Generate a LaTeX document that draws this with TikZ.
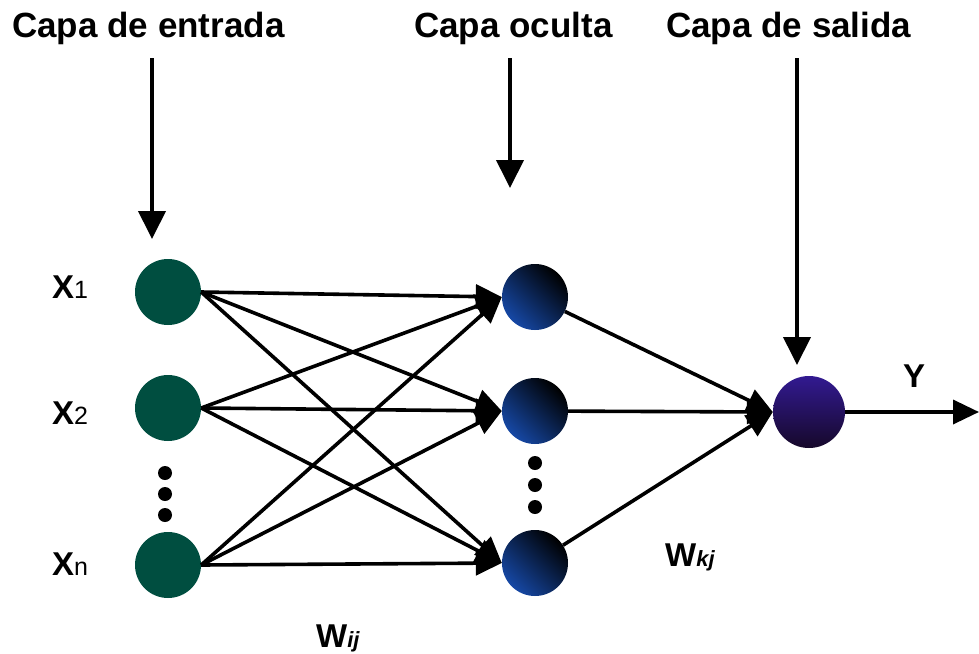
\documentclass[tikz,border=0pt]{standalone}
\usepackage{fontspec}
\setmainfont{Liberation Sans}
\usetikzlibrary{arrows.meta}
\definecolor{inputgreen}{RGB}{0,78,64}
\definecolor{hiddenblue}{RGB}{22,72,165}
\definecolor{outtop}{RGB}{50,26,145}
\definecolor{outbot}{RGB}{22,8,42}
\begin{document}
\begin{tikzpicture}[x=1pt,y=-1pt,
  neuron/.style={circle,minimum size=66pt,inner sep=0pt},
  innode/.style={neuron,fill=inputgreen},
  hidnode/.style={neuron,left color=hiddenblue,right color=black,shading angle=135},
  outnode/.style={neuron,minimum size=72pt,top color=outtop,bottom color=outbot},
  dotmark/.style={circle,fill=black,minimum size=14pt,inner sep=0pt},
  caption/.style={font=\fontsize{35}{40}\selectfont\bfseries,inner sep=0pt,anchor=base west},
  varlabel/.style={font=\fontsize{33}{38}\selectfont\bfseries,inner sep=0pt,anchor=base west},
  wire/.style={line width=3.6pt,-{Triangle[width=24pt,length=26pt]}},
  pointer/.style={line width=4pt,-{Triangle[width=27pt,length=28pt]}}
]
\useasboundingbox (0,0) rectangle (979,653);

% layer titles
\node[caption] (tin)  at (12,37)  {Capa de entrada};
\node[caption] (thid) at (414,37) {Capa oculta};
\node[caption] (tout) at (666,37) {Capa de salida};

% neurons
\node[innode] (i1) at (168,292) {};
\node[innode] (i2) at (168,408) {};
\node[innode] (i3) at (168,565) {};
\node[hidnode] (h1) at (535,297) {};
\node[hidnode] (h2) at (535,411) {};
\node[hidnode] (h3) at (535,563) {};
\node[outnode] (o) at (809,412) {};

% ellipsis dots
\node[dotmark] (d1) at (165,473) {};
\node[dotmark] (d2) at (165,494) {};
\node[dotmark] (d3) at (165,515) {};
\node[dotmark] (e1) at (535,463) {};
\node[dotmark] (e2) at (535,485) {};
\node[dotmark] (e3) at (535,507) {};

% input labels
\node[varlabel] (x1) at (52,298) {X\fontsize{25}{28}\selectfont\mdseries 1};
\node[varlabel] (x2) at (52,424) {X\fontsize{25}{28}\selectfont\mdseries 2};
\node[varlabel] (xn) at (52,575) {X\fontsize{25}{28}\selectfont\mdseries n};

% weight labels
\node[varlabel] (wij) at (316,647) {W\fontsize{22}{26}\selectfont\itshape ij};
\node[varlabel] (wkj) at (665,566) {W\fontsize{22}{26}\selectfont\itshape kj};
\node[varlabel] (ylab) at (903,387) {Y};

% pointers from the titles
\coordinate (pin)  at (152,58);
\coordinate (pinT) at (152,239);
\coordinate (phid)  at (510,58);
\coordinate (phidT) at (510,188);
\coordinate (pout)  at (797,58);
\coordinate (poutT) at (797,365);
\draw[pointer] (pin) -- (pinT);
\draw[pointer] (phid) -- (phidT);
\draw[pointer] (pout) -- (poutT);

% input -> hidden
\foreach \a in {i1,i2,i3}
  \foreach \b in {h1,h2,h3}
    \draw[wire] (\a.east) -- (\b.west);

% hidden -> output
\foreach \b in {h1,h2,h3}
  \draw[wire] (\b) -- (o.west);

% output
\coordinate (yend) at (979,412);
\draw[wire] (o) -- (yend);
\end{tikzpicture}
\end{document}
